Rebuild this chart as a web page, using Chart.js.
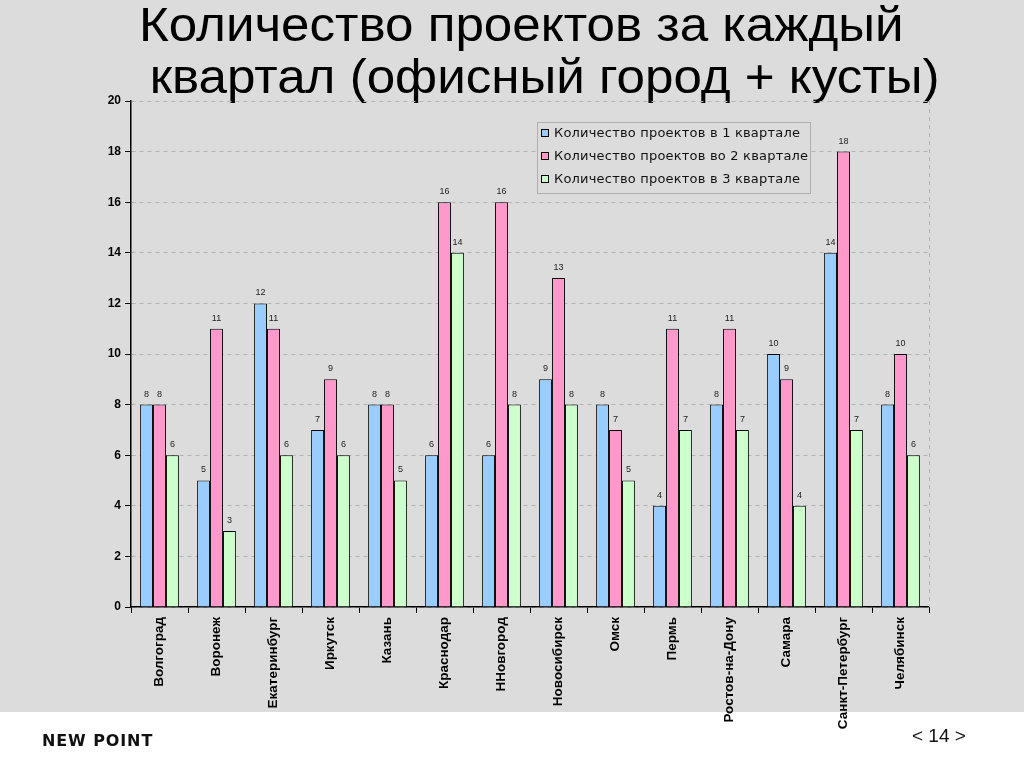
<!DOCTYPE html>
<html>
<head>
<meta charset="utf-8">
<script src="https://cdn.jsdelivr.net/npm/chart.js@4"></script>
<style>
  html, body { margin: 0; padding: 0; background: #fff; }
  #page { position: relative; width: 1024px; height: 767px; overflow: hidden; }
  #band { position: absolute; left: 0; top: 0; width: 1024px; height: 712px; background: #dcdcdc; }
  #title { position: absolute; left: 139px; top: -1px; font-family: "Liberation Sans", Arial, sans-serif;
           font-size: 48px; line-height: 52px; color: #000; white-space: nowrap;
           transform: scaleX(1.065); transform-origin: left top; }
  #title .l2 { padding-left: 10px; }
  #chartBox { position: absolute; left: 0; top: 0; width: 1024px; height: 767px; }
  #logo { position: absolute; left: 42px; top: 731px; font-family: "DejaVu Sans", sans-serif; font-weight: bold;
          font-size: 16px; letter-spacing: 0.9px; color: #111; }
  #pageNum { position: absolute; left: 912px; top: 725px; font-family: "Liberation Sans", Arial, sans-serif;
             font-size: 19px; color: #111; }
</style>
</head>
<body>
<div id="page">
  <div id="band"></div>
  <div id="title">Количество проектов за каждый<br><span class="l2">квартал (офисный город + кусты)</span></div>
  <div id="chartBox"><canvas id="projChart" width="1024" height="767"></canvas></div>
  <div id="logo">NEW POINT</div>
  <div id="pageNum">&lt; 14 &gt;</div>
</div>
<script>
// Data
const cities = ['Волгоград', 'Воронеж', 'Екатеринбург', 'Иркутск', 'Казань', 'Краснодар', 'ННовгород',
    'Новосибирск', 'Омск', 'Пермь', 'Ростов-на-Дону', 'Самара', 'Санкт-Петербург', 'Челябинск'];
const q1 = [8, 5, 12, 7, 8, 6, 6, 9, 8, 4, 8, 10, 14, 8];
const q2 = [8, 11, 11, 9, 8, 16, 16, 13, 7, 11, 11, 9, 18, 10];
const q3 = [6, 3, 6, 6, 5, 14, 8, 8, 5, 7, 7, 4, 7, 6];
const seriesNames = ['Количество проектов в 1 квартале', 'Количество проектов во 2 квартале', 'Количество проектов в 3 квартале'];

const colors = ['#99ccff', '#ff99cc', '#ccffcc'];

// numbers above bars + dashed right edge of plot
const valueLabels = {
    id: 'valueLabels',
    beforeDatasetsDraw(chart) {
        const a = chart.chartArea;
        const ctx = chart.ctx;
        ctx.save();
        ctx.strokeStyle = '#b4b4b4';
        ctx.setLineDash([4, 4]);
        ctx.beginPath();
        ctx.moveTo(Math.round(a.right) + 0.5, a.top);
        ctx.lineTo(Math.round(a.right) + 0.5, a.bottom);
        ctx.stroke();
        ctx.restore();
    },
    afterDatasetsDraw(chart) {
        const ctx = chart.ctx;
        ctx.save();
        ctx.font = '9px "Liberation Sans", Arial, sans-serif';
        ctx.fillStyle = '#222';
        ctx.textAlign = 'center';
        ctx.textBaseline = 'bottom';
        chart.data.datasets.forEach((ds, i) => {
            chart.getDatasetMeta(i).data.forEach((bar, j) => {
                ctx.fillText(ds.data[j], bar.x, bar.y - 6);
            });
        });
        ctx.restore();
    }
};

// boxed legend inside plot area
const boxLegend = {
    id: 'boxLegend',
    afterDraw(chart) {
        const ctx = chart.ctx;
        const x = 537, y = 122, w = 273, h = 71;
        ctx.save();
        ctx.fillStyle = '#dcdcdc';
        ctx.fillRect(x, y, w, h);
        ctx.strokeStyle = '#b0b0b0';
        ctx.lineWidth = 1;
        ctx.strokeRect(x + 0.5, y + 0.5, w, h);
        ctx.beginPath();
        ctx.rect(x, y, w, h);
        ctx.clip();
        ctx.font = '13px "DejaVu Sans", Verdana, sans-serif';
        ctx.letterSpacing = '0.2px';
        ctx.textBaseline = 'middle';
        chart.data.datasets.forEach((ds, i) => {
            const ry = y + 11 + i * 23;
            ctx.fillStyle = ds.backgroundColor;
            ctx.fillRect(x + 4, ry - 4, 8, 8);
            ctx.strokeStyle = '#000';
            ctx.strokeRect(x + 4.5, ry - 3.5, 7, 7);
            ctx.fillStyle = '#111';
            ctx.fillText(ds.label, x + 17, ry + 1);
        });
        ctx.restore();
    }
};

const ctx = document.getElementById('projChart').getContext('2d');
new Chart(ctx, {
    type: 'bar',
    data: {
        labels: cities,
        datasets: [
            { label: seriesNames[0], data: q1, backgroundColor: colors[0] },
            { label: seriesNames[1], data: q2, backgroundColor: colors[1] },
            { label: seriesNames[2], data: q3, backgroundColor: colors[2] }
        ].map(d => Object.assign(d, { borderColor: '#000', borderWidth: 1, categoryPercentage: 0.68, barPercentage: 1 }))
    },
    options: {
        responsive: false,
        animation: false,
        layout: { padding: { left: 0, right: 95, top: 101, bottom: 0 } },
        plugins: { legend: { display: false }, tooltip: { enabled: false } },
        scales: {
            x: {
                grid: { offset: true, drawOnChartArea: false, color: '#000', tickLength: 6 },
                border: { color: '#000', width: 1.5 },
                ticks: {
                    autoSkip: false, minRotation: 90, maxRotation: 90, color: '#000', padding: 4,
                    font: { family: '"Liberation Sans", Arial, sans-serif', size: 13.5, weight: 'bold' }
                },
                afterFit(scale) { scale.height = 160; }
            },
            y: {
                min: 0, max: 20,
                ticks: {
                    stepSize: 2, color: '#000', padding: 4,
                    font: { family: '"Liberation Sans", Arial, sans-serif', size: 12, weight: 'bold' }
                },
                grid: { color: '#b4b4b4', tickColor: '#000', tickLength: 6, drawTicks: true },
                border: { color: '#000', width: 1.5, dash: [4, 4] },
                afterFit(scale) { scale.width = 131; }
            }
        }
    },
    plugins: [valueLabels, boxLegend]
});
</script>
</body>
</html>
